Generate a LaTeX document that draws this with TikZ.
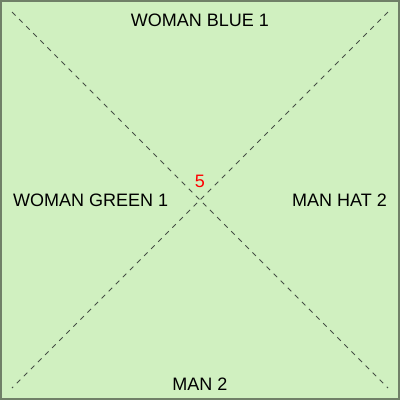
\documentclass[tikz,border=0pt]{standalone}
\usepackage{fontspec}
\setmainfont{Liberation Sans}
\definecolor{bgfill}{RGB}{208,240,192}
\definecolor{bordercol}{RGB}{112,128,104}
\definecolor{dashcol}{RGB}{70,80,70}
\begin{document}
\begin{tikzpicture}[x=1pt,y=-1pt,
  lbl/.style={inner sep=0pt,font=\fontsize{18}{21}\selectfont,text=black},
  diag/.style={draw=dashcol,line width=0.8pt,dash pattern=on 5pt off 5pt}]
\useasboundingbox (0,0) rectangle (400,400);
\fill[bgfill] (0,0) rectangle (400,400);
\draw[bordercol,line width=2pt] (1,1) rectangle (399,399);
\coordinate (tl) at (12,12);
\coordinate (br) at (388,388);
\coordinate (tr) at (388,12);
\coordinate (bl) at (12,388);
\draw[diag] (tl) -- (br);
\draw[diag] (tr) -- (bl);
\node[lbl] (top) at (200,20) {WOMAN BLUE 1};
\node[lbl,anchor=west] (left) at (13,200.5) {WOMAN GREEN 1};
\node[lbl,anchor=east] (right) at (387,200) {MAN HAT 2};
\node[lbl] (bottom) at (200,384.5) {MAN 2};
\node[lbl,text=red] (num) at (200,181) {5};
\end{tikzpicture}
\end{document}
